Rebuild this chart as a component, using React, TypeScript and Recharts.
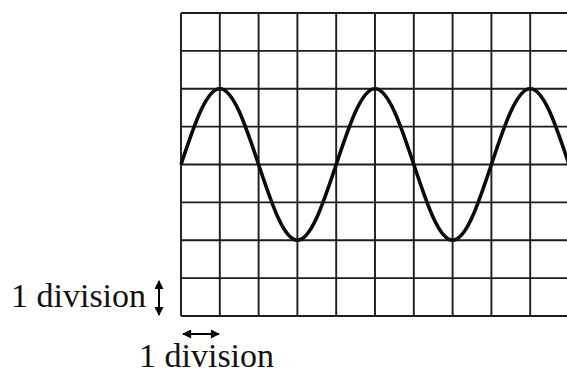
import React from 'react';
import { LineChart, Line, XAxis, YAxis, CartesianGrid } from 'recharts';

// horizontal position in divisions, sampled every half division
const divisions = [0, 0.5, 1, 1.5, 2, 2.5, 3, 3.5, 4, 4.5, 5, 5.5, 6, 6.5, 7, 7.5, 8, 8.5, 9, 9.5, 10];
// trace height in divisions
const trace = [0, 1.4, 2, 1.4, 0, -1.4, -2, -1.4, 0, 1.4, 2, 1.4, 0, -1.4, -2, -1.4, 0, 1.4, 2, 1.4, 0];

const xTicks = [0, 1, 2, 3, 4, 5, 6, 7, 8, 9, 10];
const yTicks = [-4, -3, -2, -1, 0, 1, 2, 3, 4];

const data = divisions.map((d, i) => ({ d, v: trace[i] }));

const serif = '"Liberation Serif", "Times New Roman", serif';

const Arrowhead = ({ id }: { id: string }) => (
  <marker id={id} viewBox="0 0 10 10" refX="9" refY="5" markerWidth="5" markerHeight="4.5" orient="auto-start-reverse">
    <path d="M0,0 L10,5 L0,10 z" fill="#000" />
  </marker>
);

export default function App() {
  return (
    <div style={{ position: 'absolute', left: 0, top: 0, width: 567, height: 375, overflow: 'hidden', background: '#fff' }}>
      <LineChart width={570} height={375} data={data} margin={{ top: 13, left: 181, right: 1, bottom: 59 }}>
        <CartesianGrid stroke="#1c1c1c" strokeWidth={1.9} />
        <XAxis dataKey="d" type="number" domain={[0, 10]} ticks={xTicks} interval={0} hide />
        <YAxis type="number" domain={[-4, 4]} ticks={yTicks} interval={0} hide />
        <Line
          type="natural"
          dataKey="v"
          stroke="#0a0a0a"
          strokeWidth={3.6}
          dot={false}
          activeDot={false}
          isAnimationActive={false}
        />
      </LineChart>
      <svg width={567} height={375} style={{ position: 'absolute', left: 0, top: 0 }}>
        <defs>
          <Arrowhead id="ah" />
        </defs>
        <text x={11} y={307} fontFamily={serif} fontSize={34} fill="#111">1 division</text>
        <line x1={159} y1={281} x2={159} y2={315} stroke="#000" strokeWidth={2} markerStart="url(#ah)" markerEnd="url(#ah)" />
        <line x1={183} y1={334} x2={219} y2={334} stroke="#000" strokeWidth={2} markerStart="url(#ah)" markerEnd="url(#ah)" />
        <text x={139} y={367} fontFamily={serif} fontSize={34} fill="#111">1 division</text>
      </svg>
    </div>
  );
}
